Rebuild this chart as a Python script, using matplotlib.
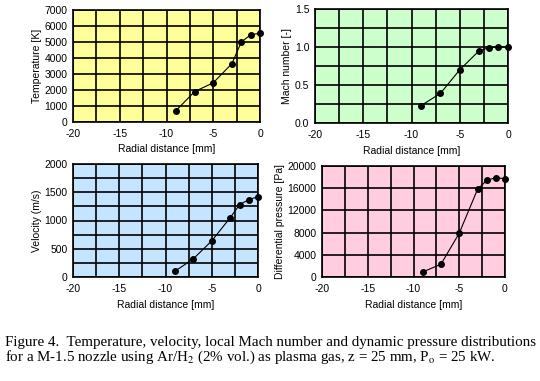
import numpy as np
import matplotlib.pyplot as plt

# Data points (radial distance in mm)
r = [-9, -7, -5, -3, -2, -1, 0]
temperature = [700, 1900, 2450, 3650, 5000, 5450, 5550]
mach = [0.23, 0.39, 0.70, 0.95, 0.99, 1.0, 1.0]
velocity = [100, 320, 640, 1050, 1280, 1370, 1420]
pressure = [900, 2300, 7900, 15800, 17400, 17900, 17700]

plt.rcParams['font.family'] = ['Liberation Sans', 'DejaVu Sans']
fig = plt.figure(figsize=(5.4, 3.81), dpi=100)

panels = [
    # (left, bottom, width, height) in pixels, data, ylabel, ymax, grid step, label step, colour
    ((73, 259, 187, 112), temperature, 'Temperature [K]', 7000, 1000, 1000, '#FFFF99', '%d'),
    ((315, 258, 193, 114), mach, 'Mach number [-]', 1.5, 0.25, 0.5, '#CCFFCC', '%.1f'),
    ((73, 104, 185, 113), velocity, 'Velocity (m/s)', 2000, 250, 500, '#C4E4FF', '%d'),
    ((322, 104, 183, 111), pressure, 'Differential pressure [Pa]', 20000, 4000, 4000, '#FFCCE0', '%d'),
]

W, H = 540, 381
xg = np.arange(-20, 0.1, 2.5)
for (l, b, w, h), vals, ylab, ymax, gstep, tstep, col, fmt in panels:
    ax = fig.add_axes([l / W, b / H, w / W, h / H])
    ax.set_facecolor(col)
    ax.set_xlim(-20, 0)
    ax.set_ylim(0, ymax)
    ax.grid(True, color='black', lw=1.2)
    ax.set_axisbelow(True)
    ax.set_xticks(xg)
    ax.set_xticklabels(['%d' % v if v % 5 == 0 else '' for v in xg])
    yt = np.arange(0, ymax + gstep / 2, gstep)
    ax.set_yticks(yt)
    ax.set_yticklabels([fmt % v if abs(v / tstep - round(v / tstep)) < 1e-6 else '' for v in yt])
    ax.tick_params(length=0, labelsize=7.5)
    ax.tick_params(axis='x', pad=5)
    ax.tick_params(axis='y', pad=4)
    for s in ax.spines.values():
        s.set_linewidth(1.2)
    ax.plot(r, vals, color='black', lw=0.8, marker='o', markersize=4, clip_on=False)
    ax.set_xlabel('Radial distance [mm]', fontsize=7.5, labelpad=4)
    ax.set_ylabel(ylab, fontsize=7.5, labelpad=2)

cap = ('Figure 4.  Temperature, velocity, local Mach number and dynamic pressure distributions\n'
       'for a M-1.5 nozzle using Ar/H$_2$ (2% vol.) as plasma gas, z = 25 mm, P$_\\mathrm{o}$ = 25 kW.')
fig.text(5 / W, 1 - 336 / H, cap, family='Liberation Serif', fontsize=10.8, va='top',
         ha='left', linespacing=0.95, math_fontfamily='stix')

fig.savefig('out.png', dpi=100, facecolor='white')
